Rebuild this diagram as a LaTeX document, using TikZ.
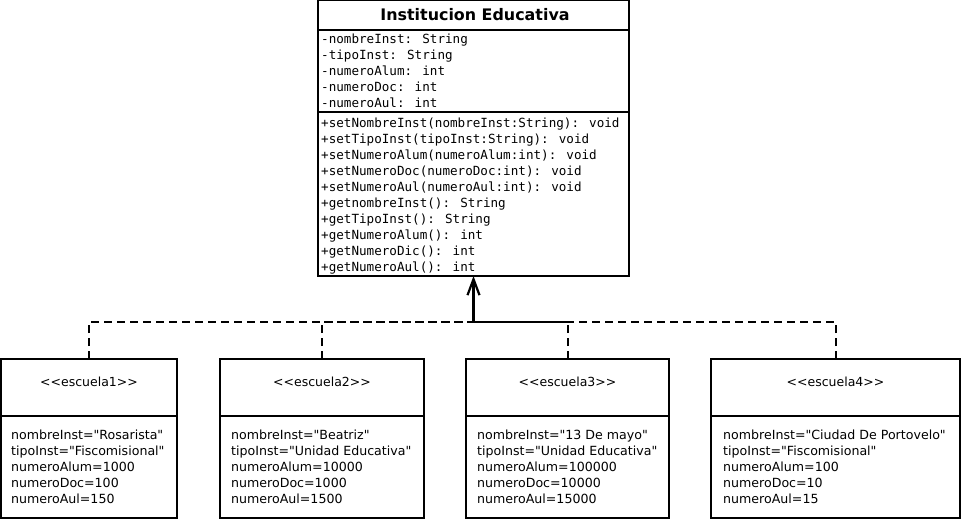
\documentclass[tikz,border=0pt]{standalone}
\usepackage{fontspec}
\setmainfont{DejaVu Sans}
% plain families: straight quotes and << >> stay as typed
\newfontfamily\plainfont{DejaVu Sans}
\newfontfamily\memberfont{DejaVu Sans Mono}
\usetikzlibrary{arrows.meta}

\begin{document}
\begin{tikzpicture}[x=1pt,y=-1pt,
  umlbox/.style={draw, line width=2pt, inner sep=0pt, outer sep=0pt,
                 anchor=north west, fill=white},
  divider/.style={line width=2pt},
  titletext/.style={inner sep=0pt, anchor=base, font=\fontsize{15.9}{18}\plainfont\bfseries},
  membertext/.style={inner sep=0pt, anchor=base west, font=\fontsize{12.6}{16}\memberfont},
  stereo/.style={inner sep=0pt, anchor=base, font=\fontsize{12.5}{16}\plainfont},
  slottext/.style={inner sep=0pt, anchor=base west, font=\fontsize{12.6}{16}\plainfont},
  realize/.style={line width=2pt, dash pattern=on 8pt off 5pt},
  generalize/.style={line width=2.2pt, -{Straight Barb[length=16pt,width=12pt,line width=2.2pt]}}
]
\useasboundingbox (0,0) rectangle (961,520);

% ---- class Institucion Educativa ----
\node[umlbox, minimum width=311pt, minimum height=276pt] (inst) at (318,0) {};
\draw[divider] (318,30) -- (629,30);
\draw[divider] (318,112) -- (629,112);
\node[titletext] (ititle) at (475,20) {Institucion Educativa};

\node[membertext] (a1) at (321,43)  {-nombreInst: String};
\node[membertext] (a2) at (321,59)  {-tipoInst: String};
\node[membertext] (a3) at (321,75)  {-numeroAlum: int};
\node[membertext] (a4) at (321,91)  {-numeroDoc: int};
\node[membertext] (a5) at (321,107) {-numeroAul: int};

\node[membertext] (m1)  at (321,127) {+setNombreInst(nombreInst:String): void};
\node[membertext] (m2)  at (321,143) {+setTipoInst(tipoInst:String): void};
\node[membertext] (m3)  at (321,159) {+setNumeroAlum(numeroAlum:int): void};
\node[membertext] (m4)  at (321,175) {+setNumeroDoc(numeroDoc:int): void};
\node[membertext] (m5)  at (321,191) {+setNumeroAul(numeroAul:int): void};
\node[membertext] (m6)  at (321,207) {+getnombreInst(): String};
\node[membertext] (m7)  at (321,223) {+getTipoInst(): String};
\node[membertext] (m8)  at (321,239) {+getNumeroAlum(): int};
\node[membertext] (m9)  at (321,255) {+getNumeroDic(): int};
\node[membertext] (m10) at (321,271) {+getNumeroAul(): int};

% ---- instance boxes ----
\node[umlbox, minimum width=176pt, minimum height=159pt] (e1) at (1,359) {};
\node[umlbox, minimum width=204pt, minimum height=159pt] (e2) at (220,359) {};
\node[umlbox, minimum width=203pt, minimum height=159pt] (e3) at (466,359) {};
\node[umlbox, minimum width=249pt, minimum height=159pt] (e4) at (711,359) {};

\foreach \b in {e1,e2,e3,e4}{
  \draw[divider] (\b.west |- 0,416) -- (\b.east |- 0,416);
}

\node[stereo] (s1) at (e1.north |- 0,386) {<<escuela1>>};
\node[stereo] (s2) at (e2.north |- 0,386) {<<escuela2>>};
\node[stereo] (s3) at (e3.north |- 0,386) {<<escuela3>>};
\node[stereo] (s4) at (e4.north |- 0,386) {<<escuela4>>};

% slots of escuela1
\node[slottext] (e1a) at (11,439) {nombreInst="Rosarista"};
\node[slottext] (e1b) at (11,455) {tipoInst="Fiscomisional"};
\node[slottext] (e1c) at (11,471) {numeroAlum=1000};
\node[slottext] (e1d) at (11,487) {numeroDoc=100};
\node[slottext] (e1e) at (11,503) {numeroAul=150};

% slots of escuela2
\node[slottext] (e2a) at (231,439) {nombreInst="Beatriz"};
\node[slottext] (e2b) at (231,455) {tipoInst="Unidad Educativa"};
\node[slottext] (e2c) at (231,471) {numeroAlum=10000};
\node[slottext] (e2d) at (231,487) {numeroDoc=1000};
\node[slottext] (e2e) at (231,503) {numeroAul=1500};

% slots of escuela3
\node[slottext] (e3a) at (477,439) {nombreInst="13 De mayo"};
\node[slottext] (e3b) at (477,455) {tipoInst="Unidad Educativa"};
\node[slottext] (e3c) at (477,471) {numeroAlum=100000};
\node[slottext] (e3d) at (477,487) {numeroDoc=10000};
\node[slottext] (e3e) at (477,503) {numeroAul=15000};

% slots of escuela4
\node[slottext] (e4a) at (723,439) {nombreInst="Ciudad De Portovelo"};
\node[slottext] (e4b) at (723,455) {tipoInst="Fiscomisional"};
\node[slottext] (e4c) at (723,471) {numeroAlum=100};
\node[slottext] (e4d) at (723,487) {numeroDoc=10};
\node[slottext] (e4e) at (723,503) {numeroAul=15};

% ---- connectors ----
\coordinate (join) at (inst.south |- 0,322);
\foreach \b in {e1,e2,e3,e4}{
  \draw[realize] (\b.north) |- (join);
}
\draw[generalize] (join) -- (inst.south);
\end{tikzpicture}
\end{document}
